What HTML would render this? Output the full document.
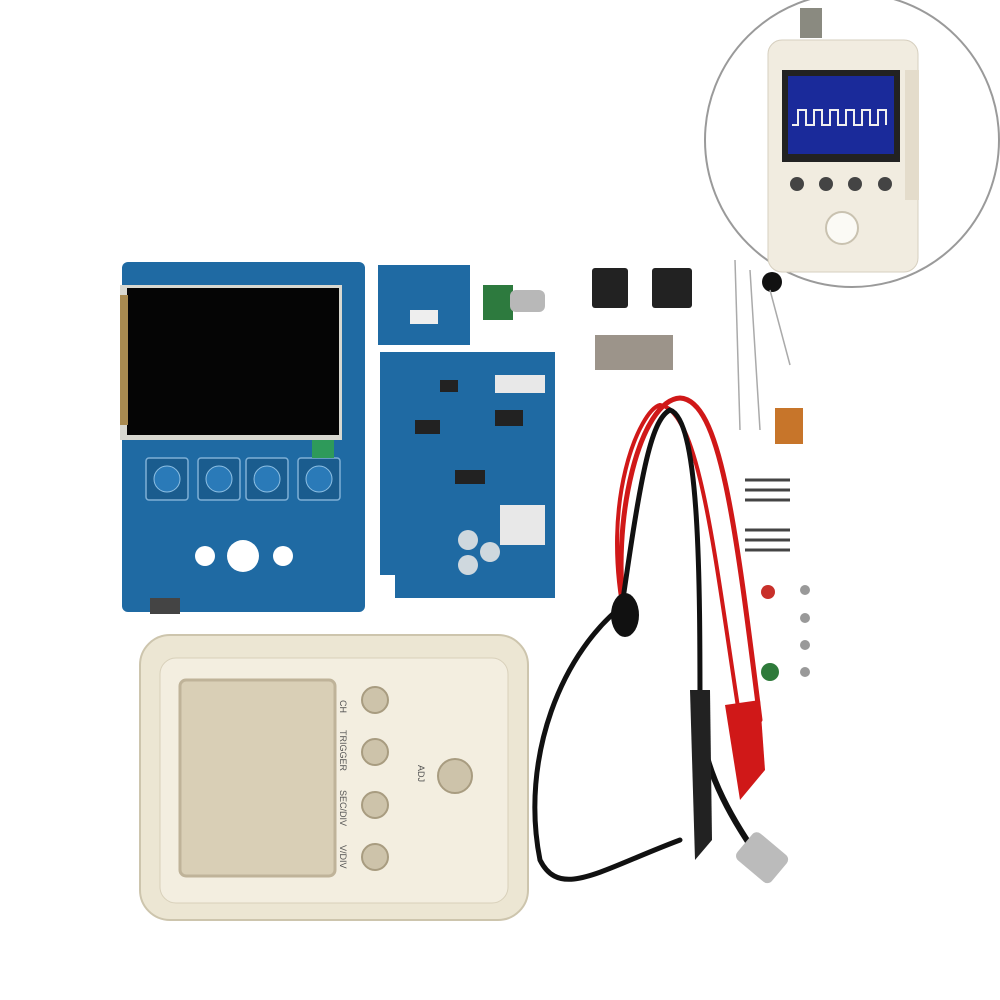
<!DOCTYPE html>
<html><head><meta charset="utf-8"><style>
html,body{margin:0;padding:0;background:#fff}
svg{display:block}
text{font-family:"Liberation Sans",sans-serif}
</style></head><body>
<svg width="1000" height="1000" viewBox="0 0 1000 1000" xmlns="http://www.w3.org/2000/svg">
<rect width="1000" height="1000" fill="#fff"/>
<!-- inset circle -->
<circle cx="852" cy="140" r="147" fill="#fff" stroke="#9a9a9a" stroke-width="2"/>
<rect x="800" y="8" width="22" height="30" fill="#8a8a80"/>
<rect x="768" y="40" width="150" height="232" rx="14" fill="#f1ece0" stroke="#d6cfbf"/>
<rect x="905" y="70" width="14" height="130" fill="#e4dccb"/>
<rect x="782" y="70" width="118" height="92" fill="#222"/>
<rect x="788" y="76" width="106" height="78" fill="#1a2a9a"/>
<polyline points="792,125 798,125 798,110 806,110 806,125 814,125 814,110 822,110 822,125 830,125 830,110 838,110 838,125 846,125 846,110 854,110 854,125 862,125 862,110 870,110 870,125 878,125 878,110 886,110 886,125" fill="none" stroke="#f0f0f0" stroke-width="2"/>
<g fill="#444"><circle cx="797" cy="184" r="7"/><circle cx="826" cy="184" r="7"/><circle cx="855" cy="184" r="7"/><circle cx="885" cy="184" r="7"/></g>
<circle cx="842" cy="228" r="16" fill="#fbfaf5" stroke="#c9c2b0" stroke-width="2"/>
<!-- left PCB -->
<rect x="122" y="262" width="243" height="350" rx="6" fill="#1f6aa3"/>
<rect x="120" y="285" width="222" height="155" fill="#d8d8d0"/>
<rect x="127" y="288" width="212" height="147" fill="#050505"/>
<rect x="120" y="295" width="8" height="130" fill="#a88a50"/>
<g fill="#1a5c8e" stroke="#7fb0d6" stroke-width="1.5">
<rect x="146" y="458" width="42" height="42" rx="3"/><rect x="198" y="458" width="42" height="42" rx="3"/><rect x="246" y="458" width="42" height="42" rx="3"/><rect x="298" y="458" width="42" height="42" rx="3"/></g>
<g fill="#2a7ab8" stroke="#8ec0e4"><circle cx="167" cy="479" r="13"/><circle cx="219" cy="479" r="13"/><circle cx="267" cy="479" r="13"/><circle cx="319" cy="479" r="13"/></g>
<rect x="312" y="440" width="22" height="18" fill="#2e9a5a"/>
<g fill="#fff"><circle cx="205" cy="556" r="10"/><circle cx="243" cy="556" r="16"/><circle cx="283" cy="556" r="10"/></g>
<rect x="150" y="598" width="30" height="16" fill="#444"/>
<!-- small PCB -->
<rect x="378" y="265" width="92" height="80" fill="#1f6aa3"/>
<rect x="410" y="310" width="28" height="14" fill="#eee"/>
<rect x="483" y="285" width="30" height="35" fill="#2d7a3e"/>
<rect x="510" y="290" width="35" height="22" rx="6" fill="#b8b8b8"/>
<!-- middle PCB -->
<path d="M380,352 H555 V598 H395 V575 H380 Z" fill="#1f6aa3"/>
<g fill="#222"><rect x="415" y="420" width="25" height="14"/><rect x="495" y="410" width="28" height="16"/><rect x="455" y="470" width="30" height="14"/><rect x="440" y="380" width="18" height="12"/></g>
<g fill="#e8e8e8"><rect x="495" y="375" width="50" height="18"/><rect x="500" y="505" width="45" height="40"/></g>
<g fill="#cfd8de"><circle cx="468" cy="540" r="10"/><circle cx="490" cy="552" r="10"/><circle cx="468" cy="565" r="10"/></g>
<!-- case -->
<rect x="140" y="635" width="388" height="285" rx="30" fill="#ece6d3" stroke="#cdc5ad" stroke-width="2"/>
<rect x="160" y="658" width="348" height="245" rx="16" fill="#f3eee0" stroke="#d8d0ba"/>
<rect x="180" y="680" width="155" height="196" rx="6" fill="#d9cfb6" stroke="#bfb399" stroke-width="3"/>
<g fill="#cdc3aa" stroke="#a89c80" stroke-width="2"><circle cx="375" cy="700" r="13"/><circle cx="375" cy="752" r="13"/><circle cx="375" cy="805" r="13"/><circle cx="375" cy="857" r="13"/><circle cx="455" cy="776" r="17"/></g>
<g font-size="9" fill="#555"><text transform="translate(340,700) rotate(90)">CH</text><text transform="translate(340,730) rotate(90)">TRIGGER</text><text transform="translate(340,790) rotate(90)">SEC/DIV</text><text transform="translate(340,845) rotate(90)">V/DIV</text><text transform="translate(418,765) rotate(90)">ADJ</text></g>
<!-- cable -->
<g fill="none" stroke-linecap="round">
<path d="M625,620 C610,520 640,400 680,398 C720,400 735,520 760,720" stroke="#d01818" stroke-width="5"/>
<path d="M625,620 C600,500 640,410 660,405 C700,410 715,560 740,720" stroke="#d01818" stroke-width="4"/>
<path d="M630,600 C560,650 520,760 540,860 C560,900 600,870 680,840" stroke="#111" stroke-width="5"/>
<path d="M620,620 C640,480 650,420 670,410 C700,420 700,580 700,720" stroke="#111" stroke-width="5"/>
<path d="M700,720 C705,780 740,830 760,860" stroke="#111" stroke-width="6"/>
</g>
<ellipse cx="625" cy="615" rx="14" ry="22" fill="#111"/>
<path d="M725,705 L760,700 L765,770 L740,800 Z" fill="#d01818"/>
<path d="M690,690 L710,690 L712,840 L695,860 Z" fill="#222"/>
<rect x="740" y="840" width="45" height="35" rx="6" fill="#bbb" transform="rotate(40 762 857)"/>
<!-- small parts -->
<rect x="592" y="268" width="36" height="40" rx="3" fill="#222"/>
<rect x="652" y="268" width="40" height="40" rx="3" fill="#222"/>
<rect x="595" y="335" width="78" height="35" fill="#9c948a"/>
<circle cx="772" cy="282" r="10" fill="#111"/>
<g stroke="#aaa" stroke-width="1.5"><line x1="735" y1="260" x2="740" y2="430"/><line x1="750" y1="270" x2="760" y2="430"/><line x1="770" y1="290" x2="790" y2="365"/></g>
<rect x="775" y="408" width="28" height="36" fill="#c7752a"/>
<g stroke="#444" stroke-width="3"><line x1="745" y1="480" x2="790" y2="480"/><line x1="745" y1="490" x2="790" y2="490"/><line x1="745" y1="500" x2="790" y2="500"/><line x1="745" y1="530" x2="790" y2="530"/><line x1="745" y1="540" x2="790" y2="540"/><line x1="745" y1="550" x2="790" y2="550"/></g>
<circle cx="768" cy="592" r="7" fill="#c8302a"/>
<circle cx="770" cy="672" r="9" fill="#2e7a3a"/>
<g fill="#999"><circle cx="805" cy="590" r="5"/><circle cx="805" cy="618" r="5"/><circle cx="805" cy="645" r="5"/><circle cx="805" cy="672" r="5"/></g>
</svg>
</body></html>
